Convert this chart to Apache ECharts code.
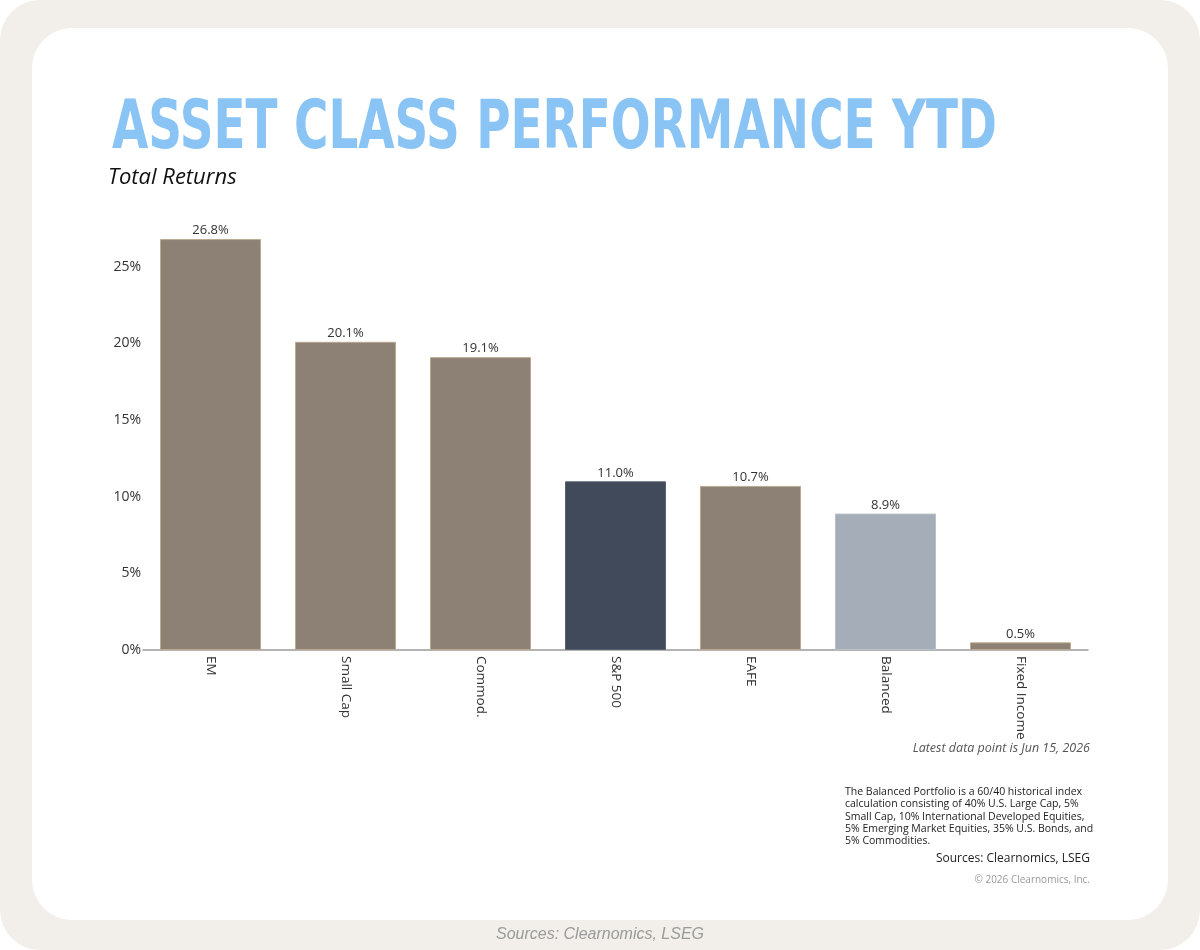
<!DOCTYPE html>
<html>
<head>
<meta charset="utf-8">
<script src="https://cdn.jsdelivr.net/npm/echarts@6/dist/echarts.min.js"></script>
<style>
  html, body { margin: 0; padding: 0; background: #ffffff; }
  #wrap { width: 1200px; height: 950px; background: #f2efea; border-radius: 40px; position: relative; overflow: hidden; }
  #chart { width: 1200px; height: 950px; position: absolute; left: 0; top: 0; }
</style>
</head>
<body>
<div id="wrap"><div id="chart"></div></div>
<script>
const categories = ['EM', 'Small Cap', 'Commod.', 'S&P 500', 'EAFE', 'Balanced', 'Fixed Income'];
const values = [26.8, 20.1, 19.1, 11.0, 10.7, 8.9, 0.5];
const barColors = ['#8c8174', '#8c8174', '#8c8174', '#414a5a', '#8c8174', '#a5aeb8', '#8c8174'];
const yTicks = [0, 5, 10, 15, 20, 25];

const titleText = 'ASSET CLASS PERFORMANCE YTD';
const subtitleText = 'Total Returns';
const noteDate = 'Latest data point is Jun 15, 2026';
const noteLines = [
  'The Balanced Portfolio is a 60/40 historical index',
  'calculation consisting of 40% U.S. Large Cap, 5%',
  'Small Cap, 10% International Developed Equities,',
  '5% Emerging Market Equities, 35% U.S. Bonds, and',
  '5% Commodities.'
];
const sourceText = 'Sources: Clearnomics, LSEG';
const copyText = '© 2026 Clearnomics, Inc.';

const chart = echarts.init(document.getElementById('chart'));
const FONT = '"Open Sans", "Noto Sans", sans-serif';

const graphics = [
  { type: 'rect', z: -10, shape: { x: 32, y: 28, width: 1136, height: 892, r: 40 }, style: { fill: '#ffffff' }, silent: true },
  { type: 'text', x: 112, y: 130, scaleX: 0.767, originX: 0, originY: 0,
    style: { text: titleText, font: 'bold 68px "Liberation Sans Narrow", "DejaVu Sans Condensed", sans-serif', fill: '#89c4f4', verticalAlign: 'middle', textAlign: 'left' } },
  { type: 'text', x: 108, y: 178,
    style: { text: subtitleText, font: 'italic 22px ' + FONT, fill: '#111111', verticalAlign: 'middle', textAlign: 'left' } },
  { type: 'text', x: 1090, y: 748,
    style: { text: noteDate, font: 'italic 12.5px ' + FONT, fill: '#555555', verticalAlign: 'middle', textAlign: 'right' } },
  { type: 'text', x: 1090, y: 859,
    style: { text: sourceText, font: '12px ' + FONT, fill: '#222222', verticalAlign: 'middle', textAlign: 'right' } },
  { type: 'text', x: 1090, y: 880,
    style: { text: copyText, font: '10px ' + FONT, fill: '#999999', verticalAlign: 'middle', textAlign: 'right' } },
  { type: 'text', x: 600, y: 935,
    style: { text: sourceText, font: 'italic 16px "Liberation Sans", Arial, sans-serif', fill: '#9a9a9a', verticalAlign: 'middle', textAlign: 'center' } }
];
noteLines.forEach(function (line, i) {
  graphics.push({ type: 'text', x: 845, y: 792 + i * 12.3,
    style: { text: line, font: '10.5px ' + FONT, fill: '#222222', verticalAlign: 'middle', textAlign: 'left' } });
});

chart.setOption({
  backgroundColor: 'transparent',
  animation: false,
  graphic: graphics,
  grid: { left: 143, right: 112, top: 236, bottom: 300, containLabel: false },
  xAxis: {
    type: 'category',
    data: categories,
    axisLine: { show: true, lineStyle: { color: '#9a9a9a', width: 1.5 } },
    axisTick: { show: false },
    axisLabel: { rotate: -90, color: '#333333', fontSize: 13.5, fontFamily: FONT, margin: 6 }
  },
  yAxis: {
    type: 'value',
    min: 0, max: 27, interval: 5,
    splitLine: { show: false },
    axisLine: { show: false },
    axisTick: { show: false },
    axisLabel: {
      color: '#333333', fontSize: 14, fontFamily: FONT, margin: 2,
      formatter: function (v) { return yTicks.indexOf(v) >= 0 ? v + '%' : ''; }
    }
  },
  series: [{
    type: 'bar',
    data: values.map(function (v, i) {
      return { value: v, itemStyle: { color: barColors[i], borderColor: i === 3 ? '#5a6272' : (i === 5 ? '#b8c0c8' : '#bba991'), borderWidth: 1 } };
    }),
    barWidth: 101,
    label: {
      show: true, position: 'top', distance: 2,
      color: '#333333', fontSize: 13, fontFamily: FONT,
      formatter: function (p) { return p.value.toFixed(1) + '%'; }
    }
  }]
});
</script>
</body>
</html>
